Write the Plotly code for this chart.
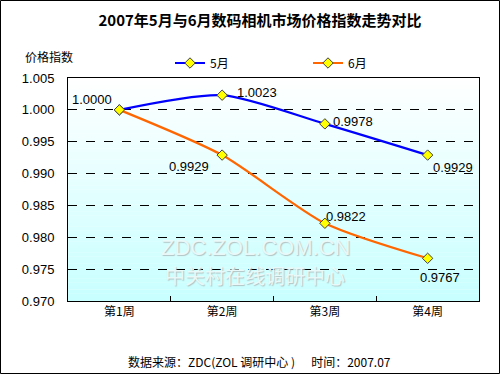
import plotly.graph_objects as go

categories = ["第1周", "第2周", "第3周", "第4周"]
may_values = [1.0000, 1.0023, 0.9978, 0.9929]
june_values = [1.0000, 0.9929, 0.9822, 0.9767]
may_labels = ["1.0000", "1.0023", "0.9978", "0.9929"]
june_labels = ["", "0.9929", "0.9822", "0.9767"]
y_ticks = [0.970, 0.975, 0.980, 0.985, 0.990, 0.995, 1.000, 1.005]

W, H = 500, 375
ML, MR, MT, MB = 68, 21, 78, 74
PW, PH = W - ML - MR, H - MT - MB

num_font = "Liberation Sans, Arial, Noto Sans CJK SC, sans-serif"
cjk_font = "Noto Sans CJK SC, Liberation Sans, sans-serif"


def px_x(px):
    return (px - ML) / PW


def px_y(py):
    return (H - MB - py) / PH


fig = go.Figure()
fig.add_trace(go.Scatter(
    x=categories, y=may_values, name="5月", mode="lines+markers",
    line=dict(color="#0000FF", width=2.2, shape="spline", smoothing=0.7),
    marker=dict(symbol="diamond", size=8, color="#FFFF00",
                line=dict(color="#404040", width=1)),
))
fig.add_trace(go.Scatter(
    x=categories, y=june_values, name="6月", mode="lines+markers",
    line=dict(color="#FF6600", width=2.2, shape="spline", smoothing=0.7),
    marker=dict(symbol="diamond", size=8, color="#FFFF00",
                line=dict(color="#404040", width=1)),
))

annotations = []
# watermark (drawn first so labels sit on top)
wm_font = dict(family=num_font, size=22, color="rgba(236,250,250,0.95)",
               shadow="1px 1px 1px #AFC0C0")
annotations.append(dict(x=px_x(255), y=px_y(247), xref="paper", yref="paper",
                        xanchor="center", yanchor="middle", borderpad=0,
                        text="ZDC.ZOL.COM.CN", showarrow=False, font=wm_font))
annotations.append(dict(x=px_x(255), y=px_y(275), xref="paper", yref="paper",
                        xanchor="center", yanchor="middle", borderpad=0,
                        text="中关村在线调研中心", showarrow=False,
                        font=dict(wm_font, family=cjk_font, size=20)))

# data labels
may_off = [(-27, 10), (35, 3), (28, 2), (25, -12)]
june_off = [(0, 0), (-33, -11), (21, 7), (12, -19)]
for cat, val, lab, (dx, dy) in zip(categories, may_values, may_labels, may_off):
    if lab:
        annotations.append(dict(x=cat, y=val, text=lab, showarrow=False,
                                xshift=dx, yshift=dy,
                                font=dict(family=num_font, size=13, color="#000")))
for cat, val, lab, (dx, dy) in zip(categories, june_values, june_labels, june_off):
    if lab:
        annotations.append(dict(x=cat, y=val, text=lab, showarrow=False,
                                xshift=dx, yshift=dy,
                                font=dict(family=num_font, size=13, color="#000")))

# y-axis title
annotations.append(dict(x=px_x(49), y=px_y(57), xref="paper", yref="paper",
                        xanchor="center", yanchor="middle",
                        text="价格指数", showarrow=False,
                        font=dict(family=cjk_font, size=12, color="#000")))
# source caption
annotations.append(dict(x=px_x(259), y=px_y(361), xref="paper", yref="paper",
                        xanchor="center", yanchor="middle",
                        text="数据来源：ZDC(ZOL 调研中心 )&nbsp;&nbsp;&nbsp;&nbsp;&nbsp;&nbsp;时间：2007.07",
                        showarrow=False,
                        font=dict(family=cjk_font, size=12, color="#000")))

# gradient background bands
shapes = []
N = 60
top = (255, 255, 255)
bot = (200, 255, 255)
for i in range(N):
    t = (i + 0.5) / N
    c = tuple(round(top[k] + (bot[k] - top[k]) * t) for k in range(3))
    shapes.append(dict(type="rect", xref="x domain", yref="y domain",
                       x0=0, x1=1, y0=1 - (i + 1) / N, y1=1 - i / N + 0.001,
                       fillcolor="rgb(%d,%d,%d)" % c, line=dict(width=0), layer="below"))
# outer border
shapes.append(dict(type="rect", xref="paper", yref="paper",
                   x0=px_x(0.5), x1=px_x(W - 0.5),
                   y0=px_y(H - 1.5), y1=px_y(0.5),
                   line=dict(color="#000", width=1), fillcolor="rgba(0,0,0,0)"))

fig.update_layout(
    width=W, height=H,
    margin=dict(l=ML, r=MR, t=MT, b=MB, autoexpand=False),
    paper_bgcolor="#FFFFFF", plot_bgcolor="#FFFFFF",
    title=dict(text="<b>2007年5月与6月数码相机市场价格指数走势对比</b>",
               x=260 / W, xref="container", xanchor="center",
               y=1 - 21 / H, yref="container", yanchor="middle",
               font=dict(family=cjk_font, size=15, color="#000")),
    showlegend=True,
    legend=dict(orientation="h", x=px_x(170), y=px_y(63),
                xanchor="left", yanchor="middle", entrywidth=93,
                font=dict(family=cjk_font, size=12, color="#000"),
                bgcolor="rgba(0,0,0,0)"),
    annotations=annotations,
    shapes=shapes,
    xaxis=dict(range=[-0.5, 3.5], showgrid=False, zeroline=False,
               showline=True, linecolor="#000", linewidth=1, mirror=True,
               ticks="inside", tickson="boundaries", ticklen=5, tickcolor="#000",
               tickfont=dict(family=cjk_font, size=12, color="#000")),
    yaxis=dict(range=[0.970, 1.005], tickvals=y_ticks, tickformat=".3f",
               showgrid=True, gridcolor="#000", griddash="dash", gridwidth=1,
               zeroline=False, showline=True, linecolor="#000", linewidth=1, mirror=True,
               ticks="", ticklabelstandoff=10,
               tickfont=dict(family=num_font, size=13, color="#000")),
)

fig.write_html("out.html", config={"displayModeBar": False},
               post_script="document.body.style.margin='0';")
